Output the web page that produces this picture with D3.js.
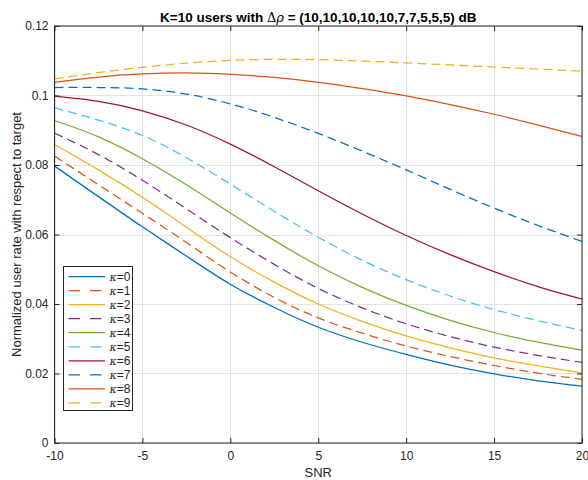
<!DOCTYPE html>
<html><head><meta charset="utf-8">
<script src="https://cdn.jsdelivr.net/npm/d3@7"></script>
<style>
html,body{margin:0;padding:0;background:#fff;}
text{font-family:"Liberation Sans",Arial,sans-serif;}
</style></head>
<body><svg id="c" width="588" height="480"></svg>
<script>
// ---- data ----
const snr = [-10, -7.5, -5, -2.5, 0, 2.5, 5, 7.5, 10, 12.5, 15, 17.5, 20];
const kappa0 = [.0797,.0709,.0622,.0538,.0457,.0390,.0333,.0290,.0255,.0224,.0199,.0179,.0164];
const kappa1 = [.0826,.0743,.0661,.0577,.0492,.0419,.0360,.0316,.0279,.0249,.0223,.0201,.0183];
const kappa2 = [.0859,.0786,.0707,.0621,.0536,.0463,.0400,.0350,.0308,.0274,.0245,.0222,.0202];
const kappa3 = [.0892,.0830,.0756,.0674,.0591,.0514,.0445,.0389,.0343,.0306,.0276,.0252,.0232];
const kappa4 = [.0928,.0881,.0818,.0743,.0662,.0583,.0510,.0448,.0396,.0353,.0318,.0290,.0267];
const kappa5 = [.0965,.0929,.0885,.0821,.0745,.0667,.0592,.0526,.0470,.0423,.0384,.0352,.0324];
const kappa6 = [.0998,.0983,.0956,.0915,.0860,.0795,.0726,.0659,.0597,.0542,.0493,.0450,.0414];
const kappa7 = [.1023,.1023,.1019,.1004,.0976,.0937,.0891,.0840,.0786,.0730,.0676,.0626,.0580];
const kappa8 = [.1038,.1053,.1062,.1065,.1061,.1052,.1038,.1020,.0999,.0974,.0946,.0915,.0882];
const kappa9 = [.1048,.1066,.1081,.1093,.1101,.1104,.1103,.1099,.1094,.1088,.1082,.1076,.1070];
const seriesNames = ["0","1","2","3","4","5","6","7","8","9"];
const xTicks = [-10,-5,0,5,10,15,20];
const xTickLabels = ["-10","-5","0","5","10","15","20"];
const yTicks = [0,0.02,0.04,0.06,0.08,0.1,0.12];
const yTickLabels = ["0","0.02","0.04","0.06","0.08","0.1","0.12"];

const allSeries = [kappa0,kappa1,kappa2,kappa3,kappa4,kappa5,kappa6,kappa7,kappa8,kappa9];
const colors = ["#0072BD","#D95319","#EDB120","#7E2F8E","#77AC30","#4DBEEE","#A2142F","#0072BD","#D95319","#EDB120"];
const dashed = [false,true,false,true,false,true,false,true,false,true];

const svg = d3.select("#c");
const L=54.5, R=582, T=26, B=443;
const x = d3.scaleLinear().domain([-10,20]).range([L,R]);
const y = d3.scaleLinear().domain([0,0.12]).range([B,T]);
const axisCol = "#262626";

// grid
const g = svg.append("g");
g.selectAll(".gx").data(xTicks).enter().append("line")
  .attr("x1",d=>Math.round(x(d))+0.5).attr("x2",d=>Math.round(x(d))+0.5)
  .attr("y1",T).attr("y2",B).attr("stroke","#e3e3e3").attr("stroke-width",1);
g.selectAll(".gy").data(yTicks).enter().append("line")
  .attr("y1",d=>Math.round(y(d))+0.5).attr("y2",d=>Math.round(y(d))+0.5)
  .attr("x1",L).attr("x2",R).attr("stroke","#e3e3e3").attr("stroke-width",1);

// lines
const line = d3.line().x((d,i)=>x(snr[i])).y(d=>y(d)).curve(d3.curveNatural);
const plot = svg.append("g");
allSeries.forEach((s,k)=>{
  plot.append("path").attr("d",line(s)).attr("fill","none")
    .attr("stroke",colors[k]).attr("stroke-width",1.25)
    .attr("stroke-dasharray",dashed[k]?"9,5":null);
});

// axes
const fmtX = (d)=>xTickLabels[xTicks.indexOf(d)];
const fmtY = (d)=>yTickLabels[yTicks.indexOf(d)];
const ax = svg.append("g").attr("transform",`translate(0,${B})`)
  .call(d3.axisBottom(x).tickValues(xTicks).tickFormat(fmtX).tickSize(-5).tickPadding(8));
const axT = svg.append("g").attr("transform",`translate(0,${T})`)
  .call(d3.axisTop(x).tickValues(xTicks).tickFormat("").tickSize(-5));
const ay = svg.append("g").attr("transform",`translate(${L},0)`)
  .call(d3.axisLeft(y).tickValues(yTicks).tickFormat(fmtY).tickSize(-5).tickPadding(6));
const ayR = svg.append("g").attr("transform",`translate(${R},0)`)
  .call(d3.axisRight(y).tickValues(yTicks).tickFormat("").tickSize(-5));
[ax,axT,ay,ayR].forEach(a=>{
  a.select(".domain").remove();
  a.selectAll(".tick line").attr("stroke",axisCol).attr("stroke-width",1);
  a.selectAll("text").attr("fill",axisCol).style("font-size","12px")
   .style("font-family",'"Liberation Sans",Arial,sans-serif');
});
svg.append("rect").attr("x",L).attr("y",T).attr("width",R-L).attr("height",B-T)
  .attr("fill","none").attr("stroke",axisCol).attr("stroke-width",1);

// labels
svg.append("text").attr("x",(L+R)/2).attr("y",477).attr("text-anchor","middle")
  .attr("fill",axisCol).style("font-size","13px").text("SNR");
svg.append("text").attr("transform",`translate(21,${(T+B)/2}) rotate(-90)`).attr("text-anchor","middle")
  .attr("fill",axisCol).style("font-size","13px").text("Normalized user rate with respect to target");

// title
const title = svg.append("text").attr("x",(L+R)/2).attr("y",22).attr("text-anchor","middle")
  .attr("fill","#000").style("font-size","13.5px").style("font-weight","bold");
title.append("tspan").text("K=10 users with ");
title.append("tspan").style("font-weight","normal").style("font-family",'"DejaVu Serif",serif').style("font-size","13px").text("Δ");
title.append("tspan").style("font-weight","normal").style("font-style","italic").style("font-family",'"DejaVu Serif",serif').style("font-size","13px").text("ρ");
title.append("tspan").text(" = (10,10,10,10,10,7,7,5,5,5) dB");

// legend
const lg = svg.append("g");
lg.append("rect").attr("x",63.5).attr("y",266.5).attr("width",69).attr("height",144)
  .attr("fill","#fff").attr("stroke",axisCol).attr("stroke-width",1);
seriesNames.forEach((n,k)=>{
  const yy = 276.5 + k*14.05;
  lg.append("line").attr("x1",68.5).attr("x2",105).attr("y1",yy).attr("y2",yy)
    .attr("stroke",colors[k]).attr("stroke-width",1.25)
    .attr("stroke-dasharray",dashed[k]?"11.5,10":null);
  const t = lg.append("text").attr("x",109.5).attr("y",yy+4.2).attr("fill",axisCol).style("font-size","12px");
  t.append("tspan").style("font-style","italic").style("font-family",'"DejaVu Serif",serif').style("font-size","11px").text("κ");
  t.append("tspan").text("=" + n);
});
</script></body></html>
